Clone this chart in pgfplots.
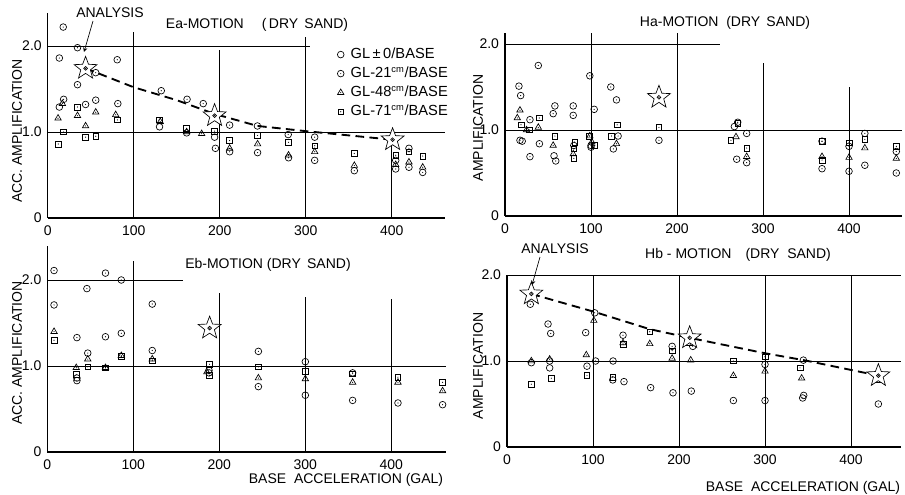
\documentclass[border=0pt]{standalone}
\usepackage{pgfplots}
\pgfplotsset{compat=1.18}
\usepackage{fontspec}
\setmainfont{Liberation Sans}

\pgfdeclareplotmark{odot}{%
  \pgfpathcircle{\pgfpointorigin}{\pgfplotmarksize}\pgfusepathqstroke
  \pgfpathcircle{\pgfpointorigin}{0.45pt}\pgfusepathqfill}
\pgfdeclareplotmark{tdot}{%
  \pgfpathmoveto{\pgfpointpolar{90}{1.15\pgfplotmarksize}}%
  \pgfpathlineto{\pgfpointpolar{210}{1.15\pgfplotmarksize}}%
  \pgfpathlineto{\pgfpointpolar{330}{1.15\pgfplotmarksize}}%
  \pgfpathclose\pgfusepathqstroke
  \pgfpathcircle{\pgfpointorigin}{0.45pt}\pgfusepathqfill}
\pgfdeclareplotmark{sdot}{%
  \pgfpathrectangle{\pgfpoint{-0.85\pgfplotmarksize}{-0.85\pgfplotmarksize}}{\pgfpoint{1.7\pgfplotmarksize}{1.7\pgfplotmarksize}}\pgfusepathqstroke
  \pgfpathcircle{\pgfpointorigin}{0.45pt}\pgfusepathqfill}
\pgfdeclareplotmark{bigstar}{%
  \pgfsetfillcolor{white}%
  \pgfpathmoveto{\pgfpointpolar{90}{\pgfplotmarksize}}%
  \pgfpathlineto{\pgfpointpolar{126}{0.42\pgfplotmarksize}}%
  \pgfpathlineto{\pgfpointpolar{162}{\pgfplotmarksize}}%
  \pgfpathlineto{\pgfpointpolar{198}{0.42\pgfplotmarksize}}%
  \pgfpathlineto{\pgfpointpolar{234}{\pgfplotmarksize}}%
  \pgfpathlineto{\pgfpointpolar{270}{0.42\pgfplotmarksize}}%
  \pgfpathlineto{\pgfpointpolar{306}{\pgfplotmarksize}}%
  \pgfpathlineto{\pgfpointpolar{342}{0.42\pgfplotmarksize}}%
  \pgfpathlineto{\pgfpointpolar{18}{\pgfplotmarksize}}%
  \pgfpathlineto{\pgfpointpolar{54}{0.42\pgfplotmarksize}}%
  \pgfpathclose\pgfusepathqfillstroke
  \pgfsetfillcolor{black}%
  \pgfpathcircle{\pgfpointorigin}{1.4pt}\pgfusepathqstroke
  \pgfpathcircle{\pgfpointorigin}{0.5pt}\pgfusepathqfill}

\tikzset{gl/.style={line width=0.7pt}}
\newcommand{\cm}{\textsuperscript{\fontsize{7}{8}\selectfont cm}}
\pgfplotsset{
  panel/.style={
    x=0.645pt, y=64.5pt,
    xmin=0, ymin=0,
    axis x line*=bottom, axis y line*=left,
    axis line style={-, line width=0.9pt},
    major tick length=0pt,
    xtick={0,100,200,300,400}, xticklabels={0,100,200,300,400},
    ytick={0,1,2}, yticklabels={0,1.0,2.0},
    ticklabel style={font=\fontsize{10.5}{12}\selectfont},
    xticklabel style={yshift=-2.5pt},
    yticklabel style={xshift=-1pt},
    clip=false,
    anchor=south west,
  },
  s0/.style={only marks, mark=o, mark size=2.5pt, line width=0.5pt, black},
  s21/.style={only marks, mark=odot, mark size=2.5pt, line width=0.5pt, black},
  s48/.style={only marks, mark=tdot, mark size=2.4pt, line width=0.5pt, black},
  s71/.style={only marks, mark=sdot, mark size=2.5pt, line width=0.5pt, black},
  st/.style={only marks, mark=bigstar, mark size=9pt, line width=0.5pt, black, forget plot},
  dl/.style={black, line width=1.4pt, dash pattern=on 6.5pt off 4pt, forget plot},
}

\begin{document}
\begin{tikzpicture}
\path[use as bounding box] (0,0) rectangle (678.75pt,371.25pt);

% ---------------- Ea ----------------
\begin{axis}[panel, at={(35.8pt,207.75pt)}, xmax=462, ymax=2.38,
  legend style={draw=none, fill=none, at={(0.725,0.85)}, anchor=north west,
    font=\fontsize{11}{14}\selectfont, row sep=0.8pt, inner sep=1pt},
  legend cell align=left]
\draw[gl] (axis cs:0,2) -- (axis cs:305,2);
\draw[gl] (axis cs:0,1) -- (axis cs:462,1);
\draw[gl] (axis cs:100,0) -- (axis cs:100,2.16);
\draw[gl] (axis cs:200,0) -- (axis cs:200,1.95);
\draw[gl] (axis cs:300,0) -- (axis cs:300,2.1);
\draw[gl] (axis cs:400,0) -- (axis cs:400,0.87);
\addplot[s0] coordinates {(13.5,1.29) (130,1.06) (161.5,0.99) (194,0.94) (404.6,0.67)};
\addlegendentry{\hspace{3pt}GL\,±\,0/BASE}
\addplot[s21] coordinates {(18,2.22) (34.6,1.98) (13.5,1.86) (80.8,1.84) (55.8,1.69)
  (34.6,1.55) (132,1.48) (18.5,1.38) (55.8,1.37) (44,1.32) (81.5,1.33) (162,1.38)
  (180.8,1.33) (211.5,1.08) (195,0.81) (211.5,0.77) (243.8,1.07) (244,0.76)
  (279.6,0.97) (280,0.70) (310.4,0.94) (310.4,0.67) (356.5,0.55) (404.6,0.57)
  (420,0.81) (420,0.59) (436,0.53)};
\addlegendentry{\hspace{3pt}GL-21\cm/BASE}
\addplot[s48] coordinates {(12,1.16) (34.6,1.19) (55.8,1.23) (44,1.07) (79,1.20)
  (17,1.33) (130.8,1.12) (161.5,1.0) (179,0.98) (211.5,0.81) (244,0.86) (280,0.73)
  (310.4,0.77) (356.5,0.61) (404.6,0.62) (420,0.65) (436,0.59)};
\addlegendentry{\hspace{3pt}GL-48\cm/BASE}
\addplot[s71] coordinates {(34.6,1.29) (18.5,1.0) (12.3,0.86) (44,0.94) (55.8,0.95)
  (81,1.14) (129.6,1.14) (161.5,1.04) (194,1.01) (211.5,0.90) (244,0.96) (280,0.88)
  (310.4,0.84) (356.5,0.75) (404.6,0.73) (420,0.77) (436,0.72)};
\addlegendentry{\hspace{3pt}GL-71\cm/BASE}
\addplot[dl] coordinates {(44,1.74) (100,1.52) (150,1.37) (194,1.21) (244,1.07) (300,1.01) (401,0.91)};
\addplot[st] coordinates {(44,1.74) (194,1.19) (401,0.91)};
\end{axis}

% ---------------- Ha ----------------
\begin{axis}[panel, at={(378.75pt,209.25pt)}, xmax=462, ymax=2.13]
\draw[gl] (axis cs:0,2) -- (axis cs:250,2);
\draw[gl] (axis cs:0,1) -- (axis cs:462,1);
\draw[gl] (axis cs:100,0) -- (axis cs:100,2.13);
\draw[gl] (axis cs:200,0) -- (axis cs:200,2.13);
\draw[gl] (axis cs:300,0) -- (axis cs:300,1.78);
\draw[gl] (axis cs:400,0) -- (axis cs:400,1.5);
\addplot[s0] coordinates {(266.7,1.04) (20,0.87) (100,0.80) (57,0.70) (80,0.82)};
\addplot[s21] coordinates {(38.7,1.75) (98.6,1.63) (16.2,1.51) (18.2,1.40) (123,1.50)
  (129.6,1.35) (58,1.28) (56,1.19) (79.3,1.28) (79.3,1.17) (103.7,1.24) (179,0.88)
  (29,1.12) (17.4,0.88) (40,0.84) (29,0.69) (59,0.64) (131.5,0.93) (126,0.78)
  (100,0.82) (270.6,1.09) (281,0.96) (281,0.62) (269.4,0.66) (368.6,0.87)
  (368.6,0.55) (400,0.81) (400,0.52) (418.4,0.96) (418.4,0.59) (455,0.75) (455,0.50)};
\addplot[s48] coordinates {(17.4,1.23) (14.3,1.14) (38.7,1.03) (25,1.0) (56,0.82)
  (98.6,0.93) (101,0.86) (129.6,0.84) (79.3,0.72) (268.6,0.92) (281,0.69)
  (368.6,0.69) (400,0.68) (418.4,0.79) (455,0.67)};
\addplot[s71] coordinates {(39.8,1.14) (18.6,1.06) (28.2,1.0) (58,0.93) (130.4,1.06)
  (179,1.03) (81,0.86) (80,0.78) (80,0.67) (104.4,0.82) (123.8,0.93) (98,0.93)
  (262.7,0.88) (270.6,1.08) (281,0.79) (368.6,0.87) (368.6,0.65) (400,0.85)
  (418.4,0.89) (455,0.81)};
\addplot[st] coordinates {(179,1.38)};
\end{axis}

% ---------------- Eb ----------------
\begin{axis}[panel, at={(35.5pt,32.25pt)}, xmax=464, ymax=2.4]
\draw[gl] (axis cs:0,2) -- (axis cs:158,2);
\draw[gl] (axis cs:0,1) -- (axis cs:464,1);
\draw[gl] (axis cs:100,0) -- (axis cs:100,2.22);
\draw[gl] (axis cs:200,0) -- (axis cs:200,1.85);
\draw[gl] (axis cs:300,0) -- (axis cs:300,1.8);
\draw[gl] (axis cs:400,0) -- (axis cs:400,1.78);
\addplot[s0] coordinates {(34.4,0.86) (188,0.95)};
\addplot[s21] coordinates {(7.8,2.11) (67.6,2.08) (86,2.0) (46,1.90) (7.8,1.71)
  (122,1.72) (34.4,1.33) (67.6,1.34) (86,1.38) (47,1.15) (122,1.18) (34.4,0.83)
  (245.4,1.17) (245.4,0.76) (300,1.05) (300,0.66) (355,0.60) (355,0.92)
  (407.7,0.57) (459.6,0.55) (188,0.92)};
\addplot[s48] coordinates {(7.8,1.40) (33.6,0.98) (47,1.08) (67.6,0.98) (86,1.12)
  (122,1.08) (185.5,0.93) (245.4,0.86) (300,0.85) (355,0.81) (407.7,0.81) (459.6,0.71)};
\addplot[s71] coordinates {(7.8,1.30) (33.6,0.90) (47,0.99) (67.6,0.98) (86,1.11)
  (122,1.06) (188.7,1.02) (188.7,0.89) (245.4,0.99) (300,0.94) (355,0.91)
  (407.7,0.87) (459.6,0.81)};
\addplot[st] coordinates {(188.7,1.44)};
\end{axis}

% ---------------- Hb ----------------
\begin{axis}[panel, at={(380.25pt,36pt)}, xmax=458, ymax=2.0]
\draw[gl] (axis cs:0,2) -- (axis cs:458,2);
\draw[gl] (axis cs:0,1) -- (axis cs:458,1);
\draw[gl] (axis cs:100,0) -- (axis cs:100,2);
\draw[gl] (axis cs:200,0) -- (axis cs:200,2);
\draw[gl] (axis cs:300,0) -- (axis cs:300,2);
\draw[gl] (axis cs:400,0) -- (axis cs:400,2);
\addplot[s0] coordinates {(28.3,0.98) (49.6,1.0) (49.6,0.92) (123,0.78) (345,0.60)};
\addplot[s21] coordinates {(27.1,1.66) (47.7,1.43) (50.8,1.32) (102,1.56) (91.5,1.33)
  (134.9,1.30) (192,1.17) (93,0.94) (103,1.0) (123.3,1.0) (136,0.76) (167,0.69)
  (193,0.63) (214.3,0.65) (263.2,0.54) (300,0.96) (300,0.54) (344.6,1.01)
  (343.8,0.57) (431.8,0.50) (216,1.17)};
\addplot[s48] coordinates {(101,1.47) (166,1.20) (192,1.03) (92.2,1.07) (213.6,1.01)
  (263.2,0.83) (300,0.88) (342.6,0.80) (28.3,1.0) (49.6,1.02) (134.9,1.21) (431.8,0.85)};
\addplot[s71] coordinates {(134.9,1.19) (166,1.34) (192,1.12) (28.3,0.73) (51.5,0.80)
  (93,0.83) (123,0.81) (263.2,1.0) (300,1.05) (340.7,0.92) (431.8,0.79) (212,1.22)};
\addplot[dl] coordinates {(28.3,1.78) (102,1.57) (166,1.37) (212,1.27) (300,1.09) (345,1.01) (431.8,0.83)};
\addplot[st] coordinates {(28.3,1.78) (212.4,1.27) (431.8,0.83)};
\end{axis}

% ---------------- texts (pixel coordinates) ----------------
\begin{scope}[x=0.75pt, y=-0.75pt, yshift=371.25pt, font=\fontsize{10.5}{12}\selectfont]
\node at (257,25) {Ea-MOTION\hspace{1.3em}(\,DRY\ \,SAND)};
\node at (725,23) {Ha-MOTION\ \ (DRY\ \,SAND)};
\node at (268,265) {Eb-MOTION\ (DRY\ \,SAND)};
\node at (738,255) {Hb - MOTION\hspace{1em}(DRY\ \ SAND)};
\node at (110,13) {ANALYSIS};
\draw[line width=0.5pt, -stealth] (93,21) -- (84,52);
\node at (555,249) {ANALYSIS};
\draw[line width=0.5pt, -stealth] (540,257) -- (532,285);
\node[rotate=90] at (17,131) {ACC.\ AMPLIFICATION};
\node[rotate=90] at (478,128) {AMPLIFICATION};
\node[rotate=90] at (17,353) {ACC.\ AMPLIFICATION};
\node[rotate=90] at (478,366) {AMPLIFICATION};
\node at (346,480) {BASE\ \ ACCELERATION (GAL)};
\node at (803,488) {BASE\ \ ACCELERATION (GAL)};
\end{scope}
\end{tikzpicture}
\end{document}
